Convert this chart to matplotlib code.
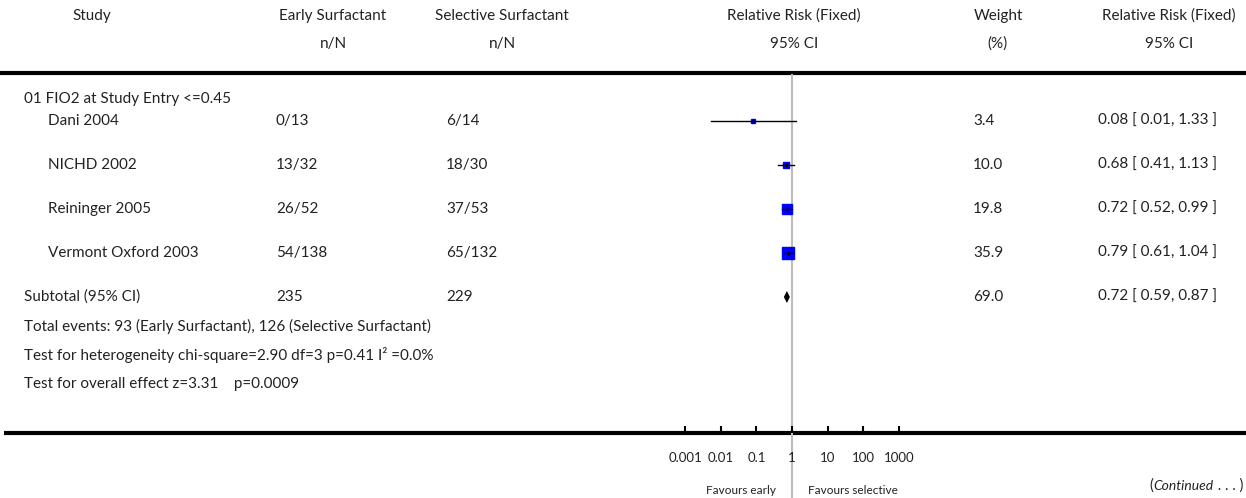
import numpy as np
import matplotlib
matplotlib.use('Agg')
import matplotlib.pyplot as plt
from matplotlib.ticker import NullLocator
from matplotlib.offsetbox import TextArea, HPacker, AnnotationBbox

plt.rcParams['font.family'] = ['Lato', 'DejaVu Sans']

# data
group_label = '01 FIO2 at Study Entry <=0.45'
studies = ['Dani 2004', 'NICHD 2002', 'Reininger 2005', 'Vermont Oxford 2003']
early_n = [0, 13, 26, 54]
early_N = [13, 32, 52, 138]
sel_n = [6, 18, 37, 65]
sel_N = [14, 30, 53, 132]
weights = [3.4, 10.0, 19.8, 35.9]
rr = [0.082, 0.68, 0.72, 0.79]
ci_lo = [0.0054, 0.41, 0.52, 0.61]
ci_hi = [1.33, 1.13, 0.99, 1.04]

sub_weight = 69.0
sub_rr = 0.72
sub_lo = 0.59
sub_hi = 0.87

stats_lines = [
    'Total events: %d (Early Surfactant), %d (Selective Surfactant)' % (sum(early_n), sum(sel_n)),
    'Test for heterogeneity chi-square=2.90 df=3 p=0.41 I\u00b2 =0.0%',
    'Test for overall effect z=3.31    p=0.0009',
]
tick_vals = [0.001, 0.01, 0.1, 1, 10, 100, 1000]
tick_labels = ['0.001', '0.01', '0.1', '1', '10', '100', '1000']

W, H = 1246, 498
fig = plt.figure(figsize=(W / 100, H / 100), dpi=100)
tc = '#222222'
fs = 11

# table layer, coordinates in pixels
ax_t = fig.add_axes([0, 0, 1, 1])
ax_t.set_xlim(0, W)
ax_t.set_ylim(H, 0)
ax_t.axis('off')

# header
hdr1 = 16
hdr2 = 44
ax_t.text(92, hdr1, 'Study', ha='center', va='center', fontsize=fs, color=tc)
for cx, t1, t2 in [(333, 'Early Surfactant', 'n/N'),
                   (502, 'Selective Surfactant', 'n/N'),
                   (794, 'Relative Risk (Fixed)', '95% CI'),
                   (998, 'Weight', '(%)'),
                   (1169, 'Relative Risk (Fixed)', '95% CI')]:
    ax_t.text(cx, hdr1, t1, ha='center', va='center', fontsize=fs, color=tc)
    ax_t.text(cx, hdr2, t2, ha='center', va='center', fontsize=fs, color=tc)

ax_t.plot([0, W], [73, 73], color='black', lw=3, solid_capstyle='butt')
ax_t.plot([4, W], [433, 433], color='black', lw=3, solid_capstyle='butt')

row0 = 121
step = 44
ax_t.text(24, 99, group_label, ha='left', va='center', fontsize=fs, color=tc)
for i, s in enumerate(studies):
    y = row0 + step * i
    ax_t.text(48, y, s, ha='left', va='center', fontsize=fs, color=tc)
    ax_t.text(276, y, '%d/%d' % (early_n[i], early_N[i]), ha='left', va='center', fontsize=fs, color=tc)
    ax_t.text(446, y, '%d/%d' % (sel_n[i], sel_N[i]), ha='left', va='center', fontsize=fs, color=tc)
    ax_t.text(973, y, '%.1f' % weights[i], ha='left', va='center', fontsize=fs, color=tc)
    ax_t.text(1098, y, '%.2f [ %.2f, %.2f ]' % (rr[i], ci_lo[i], ci_hi[i]),
              ha='left', va='center', fontsize=fs, color=tc)

ysub = row0 + step * len(studies)
ax_t.text(24, ysub, 'Subtotal (95% CI)', ha='left', va='center', fontsize=fs, color=tc)
ax_t.text(276, ysub, '%d' % sum(early_N), ha='left', va='center', fontsize=fs, color=tc)
ax_t.text(446, ysub, '%d' % sum(sel_N), ha='left', va='center', fontsize=fs, color=tc)
ax_t.text(973, ysub, '%.1f' % sub_weight, ha='left', va='center', fontsize=fs, color=tc)
ax_t.text(1098, ysub, '%.2f [ %.2f, %.2f ]' % (sub_rr, sub_lo, sub_hi),
          ha='left', va='center', fontsize=fs, color=tc)
for k, line in enumerate(stats_lines):
    ax_t.text(24, ysub + 29 * (k + 1), line, ha='left', va='center', fontsize=fs, color=tc)

ax_t.text(776, 490, 'Favours early', ha='right', va='center', fontsize=8.5, color=tc)
ax_t.text(808, 490, 'Favours selective', ha='left', va='center', fontsize=8.5, color=tc)

cont = HPacker(children=[TextArea('(', textprops=dict(fontsize=10.5, color=tc)),
                         TextArea('Continued', textprops=dict(fontsize=10, color=tc, style='italic')),
                         TextArea(' . . . )', textprops=dict(fontsize=10.5, color=tc))],
               align='baseline', pad=0, sep=0)
ax_t.add_artist(AnnotationBbox(cont, (1243, 486), xycoords='data', box_alignment=(1, 0.5),
                               frameon=False, pad=0))

# forest plot axes (log scale), x=1 at 792 px, 35.6 px per decade
dec = 35.6
left_px = 792 - 3.5 * dec
top_px, bot_px = 75, 433
ax_f = fig.add_axes([left_px / W, (H - bot_px) / H, 7 * dec / W, (bot_px - top_px) / H])
ax_f.set_facecolor('none')
ax_f.set_xscale('log')
ax_f.set_xlim(10 ** -3.5, 10 ** 3.5)
ax_f.set_ylim((bot_px - row0) / step, (top_px - row0) / step)
for sp in ax_f.spines.values():
    sp.set_visible(False)
ax_f.set_yticks([])
ax_f.set_xticks(tick_vals, tick_labels)
ax_f.xaxis.set_minor_locator(NullLocator())
ax_f.tick_params(axis='x', direction='in', length=5, width=1.5, pad=14,
                 labelsize=9.5, labelcolor=tc, color='black')

ax_f.axvline(1, ymin=-(H - bot_px) / (bot_px - top_px), ymax=1, clip_on=False,
             color='#bdbdbd', lw=1.5, zorder=0)

for i in range(len(studies)):
    side = 1.5 * np.sqrt(weights[i])
    ax_f.plot(rr[i], i, marker='s', ms=side, color='#0000ff', mec='#0000ff', zorder=2)
    ax_f.plot([ci_lo[i], ci_hi[i]], [i, i], color='black', lw=1.0, zorder=3)
    ax_f.plot(rr[i], i, marker='|', ms=3, color='black', mew=1.0, zorder=3)

isub = len(studies)
dh = 6 / step
ax_f.fill([sub_lo, sub_rr, sub_hi, sub_rr], [isub, isub - dh, isub, isub + dh],
          color='black', lw=0, zorder=3)

fig.savefig('out.png', dpi=100)
